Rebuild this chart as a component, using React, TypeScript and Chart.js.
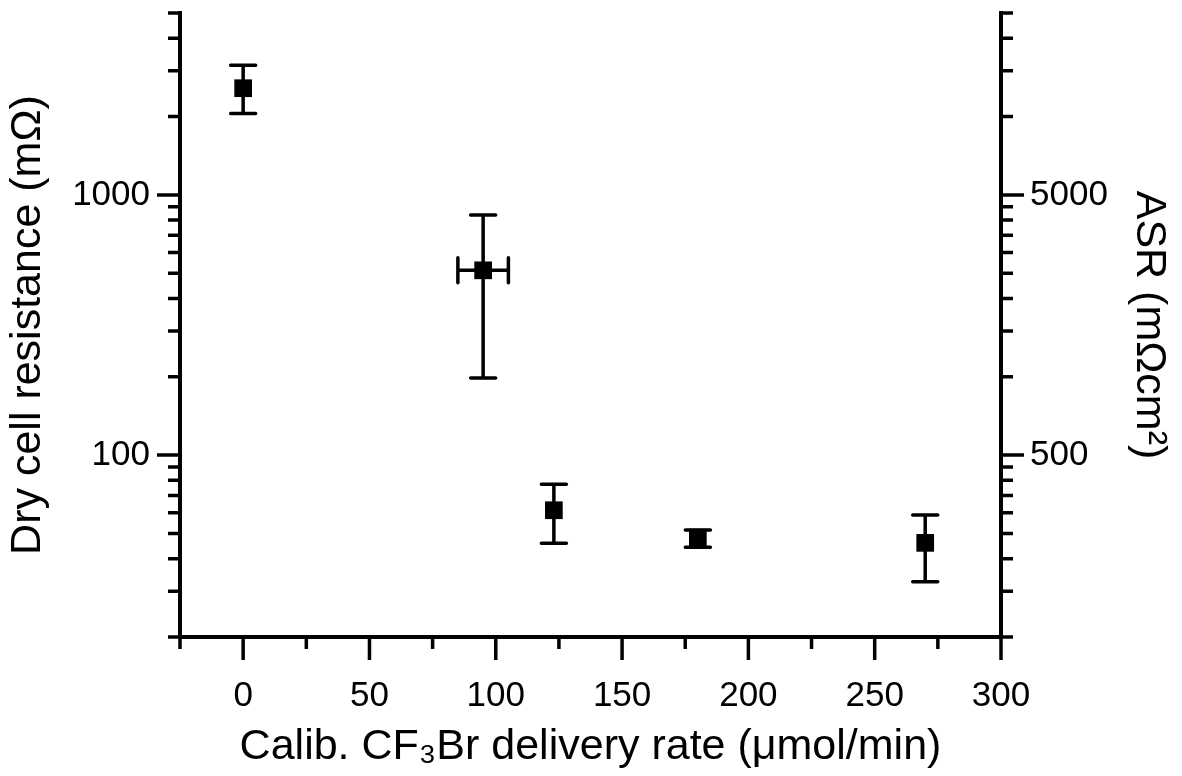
import React, { useEffect, useRef } from 'react';
import { Chart, registerables } from 'chart.js';

Chart.register(...registerables);

// ---- data ----
const rates = [0, 95, 123, 180, 270]; // µmol/min
const rateErr = [0, 10, 0, 0, 0];
const resistance = [2570, 513, 61.4, 48.2, 46]; // mΩ
const resLow = [2055, 198, 45.8, 44.3, 32.6];
const resHigh = [3150, 837, 77.3, 51.5, 58.9];

// ---- axes ----
const xMin = -25;
const xMax = 300;
const yMin = 20;
const yMax = 5000;
const asrPerResistance = 5; // ASR (mΩcm²) = R (mΩ) × 5 cm²

const xLabelTicks = [0, 50, 100, 150, 200, 250, 300];
const xMinorTicks = [-25, 25, 75, 125, 175, 225, 275];
const yLabelTicks = [100, 1000];
const yMinorTicks = [20, 30, 40, 50, 60, 70, 80, 90, 200, 300, 400, 500, 600, 700, 800, 900, 2000, 3000, 4000, 5000];
const asrLabelTicks = [500, 5000];
const asrMinorTicks = [100, 150, 200, 250, 300, 350, 400, 450, 1000, 1500, 2000, 2500, 3000, 3500, 4000, 4500, 10000, 15000, 20000, 25000];

const FONT = "'Liberation Sans', Arial, 'DejaVu Sans', sans-serif";
const MAJOR_LEN = 23;
const MINOR_LEN = 12;
const CAP = 12.5;

const errorBarPlugin = {
  id: 'errorBars',
  beforeDatasetsDraw(chart: any) {
    const { ctx } = chart;
    const x = chart.scales.x;
    const y = chart.scales.y;
    ctx.save();
    ctx.strokeStyle = '#000';
    ctx.lineWidth = 3.5;
    ctx.lineCap = 'round';
    rates.forEach((r, i) => {
      const px = x.getPixelForValue(r);
      const py = y.getPixelForValue(resistance[i]);
      const top = y.getPixelForValue(resHigh[i]);
      const bot = y.getPixelForValue(resLow[i]);
      ctx.beginPath();
      ctx.moveTo(px, top);
      ctx.lineTo(px, bot);
      ctx.moveTo(px - CAP, top);
      ctx.lineTo(px + CAP, top);
      ctx.moveTo(px - CAP, bot);
      ctx.lineTo(px + CAP, bot);
      if (rateErr[i] > 0) {
        const l = x.getPixelForValue(r - rateErr[i]);
        const rr = x.getPixelForValue(r + rateErr[i]);
        ctx.moveTo(l, py);
        ctx.lineTo(rr, py);
        ctx.moveTo(l, py - CAP);
        ctx.lineTo(l, py + CAP);
        ctx.moveTo(rr, py - CAP);
        ctx.lineTo(rr, py + CAP);
      }
      ctx.stroke();
    });
    ctx.restore();
  },
};

const tickMarkPlugin = {
  id: 'tickMarks',
  afterDraw(chart: any) {
    const { ctx, chartArea } = chart;
    const xs = chart.scales.x;
    const ys = chart.scales.y;
    const y2 = chart.scales.y2;
    ctx.save();
    ctx.strokeStyle = '#000';
    ctx.lineWidth = 3.5;
    ctx.lineCap = 'butt';
    ctx.beginPath();
    const b = chartArea.bottom;
    const l = chartArea.left;
    const r = chartArea.right;
    xLabelTicks.forEach((v) => {
      const p = xs.getPixelForValue(v);
      ctx.moveTo(p, b);
      ctx.lineTo(p, b + MAJOR_LEN);
    });
    xMinorTicks.forEach((v) => {
      const p = xs.getPixelForValue(v);
      ctx.moveTo(p, b);
      ctx.lineTo(p, b + MINOR_LEN);
    });
    yLabelTicks.forEach((v) => {
      const p = ys.getPixelForValue(v);
      ctx.moveTo(l, p);
      ctx.lineTo(l - MAJOR_LEN, p);
    });
    yMinorTicks.forEach((v) => {
      const p = ys.getPixelForValue(v);
      ctx.moveTo(l, p);
      ctx.lineTo(l - MINOR_LEN, p);
    });
    asrLabelTicks.forEach((v) => {
      const p = y2.getPixelForValue(v);
      ctx.moveTo(r, p);
      ctx.lineTo(r + MAJOR_LEN, p);
    });
    asrMinorTicks.forEach((v) => {
      const p = y2.getPixelForValue(v);
      ctx.moveTo(r, p);
      ctx.lineTo(r + MINOR_LEN, p);
    });
    ctx.stroke();
    ctx.restore();
  },
};

export default function App() {
  const ref = useRef<HTMLCanvasElement>(null);

  useEffect(() => {
    document.body.style.margin = '0';
    const canvas = ref.current;
    if (!canvas) return;
    const tickFont = { family: FONT, size: 35 };
    const titleFont = { family: FONT, size: 43 };
    const chart = new Chart(canvas, {
      type: 'scatter',
      data: {
        datasets: [
          {
            data: rates.map((x, i) => ({ x, y: resistance[i] })),
            backgroundColor: '#000',
            borderColor: '#000',
            pointStyle: 'rect',
            pointRadius: 12.5,
            pointHoverRadius: 12.5,
            borderWidth: 0,
            showLine: false,
          } as any,
        ],
      },
      options: {
        animation: false,
        responsive: true,
        maintainAspectRatio: false,
        events: [],
        layout: { padding: { top: 13, left: 0, right: 0, bottom: 0 } },
        plugins: { legend: { display: false }, tooltip: { enabled: false } },
        scales: {
          x: {
            type: 'linear',
            position: 'bottom',
            min: xMin,
            max: xMax,
            grid: { display: false, drawTicks: false },
            border: { display: true, color: '#000', width: 4 },
            ticks: {
              font: tickFont,
              color: '#000',
              padding: 38,
              maxRotation: 0,
              autoSkip: false,
              callback: (v: any) => String(v),
            },
            title: {
              display: true,
              text: 'Calib. CF\u2083Br delivery rate (\u03BCmol/min)',
              font: titleFont,
              color: '#000',
              padding: { top: 0, bottom: 3 },
            },
            afterBuildTicks: (s: any) => {
              s.ticks = xLabelTicks.map((value) => ({ value }));
            },
            afterFit: (s: any) => {
              s.height = 139;
              s.paddingLeft = 0;
              s.paddingRight = 0;
            },
          } as any,
          y: {
            type: 'logarithmic',
            position: 'left',
            min: yMin,
            max: yMax,
            grid: { display: false, drawTicks: false },
            border: { display: true, color: '#000', width: 4 },
            ticks: {
              font: tickFont,
              color: '#000',
              padding: 30,
              autoSkip: false,
              callback: (v: any) => String(v),
            },
            title: {
              display: true,
              text: 'Dry cell resistance (m\u03A9)',
              font: titleFont,
              color: '#000',
              padding: { top: 2, bottom: 0 },
            },
            afterBuildTicks: (s: any) => {
              s.ticks = yLabelTicks.map((value) => ({ value }));
            },
            afterFit: (s: any) => {
              s.width = 180;
              s.paddingTop = 0;
              s.paddingBottom = 0;
            },
          } as any,
          y2: {
            type: 'logarithmic',
            position: 'right',
            min: yMin * asrPerResistance,
            max: yMax * asrPerResistance,
            grid: { display: false, drawTicks: false },
            border: { display: true, color: '#000', width: 4 },
            ticks: {
              font: tickFont,
              color: '#000',
              padding: 29,
              autoSkip: false,
              callback: (v: any) => String(v),
            },
            title: {
              display: true,
              text: 'ASR (m\u03A9cm\u00B2)',
              font: titleFont,
              color: '#000',
              padding: { top: 7, bottom: 0 },
            },
            afterBuildTicks: (s: any) => {
              s.ticks = asrLabelTicks.map((value) => ({ value }));
            },
            afterFit: (s: any) => {
              s.width = 181;
              s.paddingTop = 0;
              s.paddingBottom = 0;
            },
          } as any,
        },
      },
      plugins: [errorBarPlugin, tickMarkPlugin],
    });
    return () => chart.destroy();
  }, []);

  return (
    <div style={{ position: 'relative', width: 1182, height: 776 }}>
      <canvas ref={ref} />
    </div>
  );
}
